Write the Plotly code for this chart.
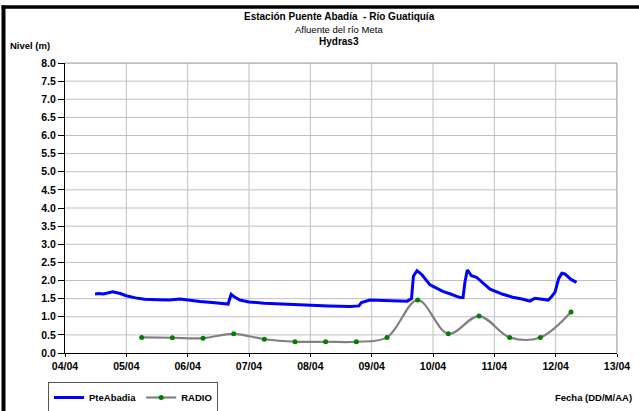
import plotly.graph_objects as go

# PteAbadia (blue) level series
pte_time = [
    "2011-04-04 11:45", "2011-04-04 13:10", "2011-04-04 15:00", "2011-04-04 16:50",
    "2011-04-04 18:40", "2011-04-04 21:35", "2011-04-05 00:00", "2011-04-05 03:35",
    "2011-04-05 07:10", "2011-04-05 12:00", "2011-04-05 16:50", "2011-04-05 21:05",
    "2011-04-06 00:00", "2011-04-06 04:50", "2011-04-06 09:35", "2011-04-06 14:25",
    "2011-04-06 15:50", "2011-04-06 17:00", "2011-04-06 18:15", "2011-04-06 20:25",
    "2011-04-07 00:00", "2011-04-07 06:00", "2011-04-07 12:00", "2011-04-07 18:00",
    "2011-04-08 00:00", "2011-04-08 07:10", "2011-04-08 15:35", "2011-04-08 19:00",
    "2011-04-08 20:00", "2011-04-08 23:15", "2011-04-09 04:50", "2011-04-09 09:35",
    "2011-04-09 13:55", "2011-04-09 15:35", "2011-04-09 16:20", "2011-04-09 17:45",
    "2011-04-09 19:40", "2011-04-09 22:50", "2011-04-10 03:50", "2011-04-10 07:10",
    "2011-04-10 10:35", "2011-04-10 11:45", "2011-04-10 12:30", "2011-04-10 13:25",
    "2011-04-10 15:05", "2011-04-10 17:00", "2011-04-10 22:20", "2011-04-11 03:20",
    "2011-04-11 07:10", "2011-04-11 10:50", "2011-04-11 13:55", "2011-04-11 15:50",
    "2011-04-11 18:40", "2011-04-11 21:05", "2011-04-11 22:20", "2011-04-11 23:45",
    "2011-04-12 01:10", "2011-04-12 02:25", "2011-04-12 03:35", "2011-04-12 06:00",
    "2011-04-12 08:10",
]
pte_level = [
    1.63, 1.64, 1.63, 1.66,
    1.69, 1.64, 1.58, 1.52,
    1.48, 1.47, 1.46, 1.49,
    1.46, 1.42, 1.39, 1.36,
    1.35, 1.62, 1.55, 1.46,
    1.41, 1.37, 1.35, 1.33,
    1.31, 1.30, 1.28, 1.30,
    1.39, 1.46, 1.45, 1.44,
    1.43, 1.50, 2.12, 2.27,
    2.16, 1.88, 1.70, 1.62,
    1.53, 1.53, 1.95, 2.29,
    2.13, 2.09, 1.76, 1.62,
    1.54, 1.49, 1.43, 1.51,
    1.49, 1.46, 1.55, 1.68,
    2.05, 2.20, 2.18, 2.03,
    1.95,
]

# RADIO (gray, smoothed) series
radio_time = [
    "2011-04-05 06:00", "2011-04-05 18:00", "2011-04-06 06:00", "2011-04-06 18:00",
    "2011-04-07 06:00", "2011-04-07 18:00", "2011-04-08 06:00", "2011-04-08 18:00",
    "2011-04-09 06:00", "2011-04-09 18:00", "2011-04-10 06:00", "2011-04-10 18:00",
    "2011-04-11 06:00", "2011-04-11 18:00", "2011-04-12 06:00",
]
radio_level = [0.43, 0.42, 0.41, 0.53, 0.38, 0.31, 0.31, 0.31,
               0.43, 1.46, 0.53, 1.02, 0.43, 0.43, 1.13]

# axis ticks
x_days = ["2011-04-%02d" % d for d in range(4, 14)]
y_ticks = [i * 0.5 for i in range(17)]
y_labels = ["%.1f" % v for v in y_ticks]

FONT = "Liberation Sans, Arial, sans-serif"
GRID = "#c0c0c0"

fig = go.Figure()
fig.add_trace(go.Scatter(
    x=pte_time, y=pte_level, mode="lines", name="PteAbadia",
    line=dict(color="#0000ff", width=3),
))
fig.add_trace(go.Scatter(
    x=radio_time, y=radio_level, mode="lines+markers", name="RADIO",
    line=dict(color="#808080", width=2.2, shape="spline", smoothing=1.0),
    marker=dict(color="#008000", size=5),
))

L, R, T, B = 65, 22, 63, 58
W, H = 639, 411
pw, ph = W - L - R, H - T - B

def px(x):
    return (x - L) / pw

def py(y):
    return (H - B - y) / ph

grid_shapes = []
for v in y_ticks[1:]:
    grid_shapes.append(dict(type="line", xref="paper", yref="y", x0=0, x1=1, y0=v, y1=v,
                            layer="below", line=dict(color=GRID, width=1)))
for d in x_days[1:]:
    grid_shapes.append(dict(type="line", xref="x", yref="paper", x0=d, x1=d, y0=0, y1=1,
                            layer="below", line=dict(color=GRID, width=1)))

frame_shapes = [
    dict(type="line", xref="paper", yref="paper", x0=0, x1=1, y0=1, y1=1,
         line=dict(color="#a0a0a0", width=1)),
    dict(type="line", xref="paper", yref="paper", x0=1, x1=1, y0=0, y1=1,
         line=dict(color="#a0a0a0", width=1)),
    dict(type="line", xref="paper", yref="paper", x0=px(3.5), x1=px(3.5),
         y0=py(5.5), y1=py(411), line=dict(color="black", width=4)),
    dict(type="line", xref="paper", yref="paper", x0=px(1.5), x1=px(639),
         y0=py(7), y1=py(7), line=dict(color="black", width=3.5)),
]

fig.update_layout(
    width=W, height=H,
    margin=dict(l=L, r=R, t=T, b=B, autoexpand=False),
    paper_bgcolor="white", plot_bgcolor="rgba(0,0,0,0)",
    font=dict(family=FONT, color="black", size=11),
    showlegend=True,
    legend=dict(
        orientation="h", x=px(48), y=py(382), xanchor="left", yanchor="top",
        bordercolor="#555555", borderwidth=1, bgcolor="white",
        font=dict(size=9.5, family=FONT, weight="bold"),
        itemwidth=30, tracegroupgap=0,
    ),
    xaxis=dict(
        type="date",
        range=[x_days[0], x_days[-1]],
        dtick=86400000, tick0=x_days[0],
        tickformat="%d/%m",
        showgrid=False,
        showline=True, linecolor="black", linewidth=1,
        ticks="outside", ticklen=3, tickcolor="black",
        tickfont=dict(size=10.5, family=FONT, weight="bold"),
        mirror=False, zeroline=False,
    ),
    yaxis=dict(
        range=[0, 8], tickvals=y_ticks, ticktext=y_labels,
        showgrid=False,
        showline=True, linecolor="black", linewidth=1,
        ticks="outside", ticklen=6, tickcolor="black",
        tickfont=dict(size=10.5, family=FONT, weight="bold"),
        zeroline=False,
    ),
    shapes=grid_shapes + frame_shapes,
    annotations=[
        dict(text="<b>Estación Puente Abadía  - Río Guatiquía</b>", xref="paper", yref="paper",
             x=px(339), y=py(17), xanchor="center", yanchor="middle", showarrow=False,
             font=dict(size=10)),
        dict(text="Afluente del río Meta", xref="paper", yref="paper",
             x=px(339), y=py(29), xanchor="center", yanchor="middle", showarrow=False,
             font=dict(size=9.5)),
        dict(text="<b>Hydras3</b>", xref="paper", yref="paper",
             x=px(339), y=py(41), xanchor="center", yanchor="middle", showarrow=False,
             font=dict(size=10)),
        dict(text="<b>Nivel (m)</b>", xref="paper", yref="paper",
             x=px(8), y=py(45), xanchor="left", yanchor="middle", showarrow=False,
             font=dict(size=9.5)),
        dict(text="<b>Fecha (DD/M/AA)</b>", xref="paper", yref="paper",
             x=px(634), y=py(397), xanchor="right", yanchor="middle", showarrow=False,
             font=dict(size=9.5)),
    ],
)

fig.write_html(
    "out.html",
    config={"displayModeBar": False},
    post_script="document.body.style.margin='0';document.body.style.overflow='hidden';",
)
